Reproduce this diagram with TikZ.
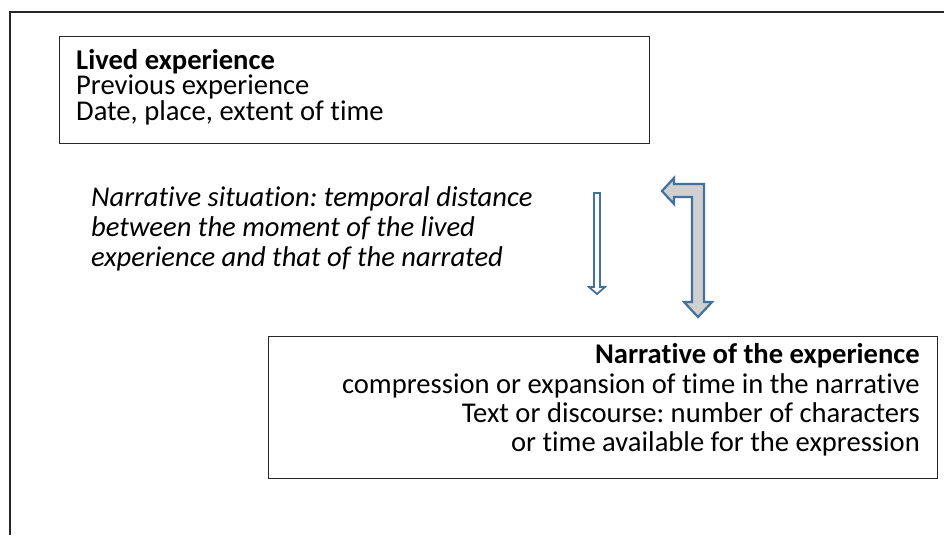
\documentclass[tikz,border=0pt]{standalone}
\usepackage{fontspec}
\setmainfont{Carlito}[Ligatures=NoCommon]
\frenchspacing
\newcommand\tightlines{\lineskiplimit -30pt\relax}
\begin{document}
\begin{tikzpicture}[x=1pt,y=-1pt,
  frameline/.style={line width=1.6pt,draw=black!85},
  boxstyle/.style={draw=black!85,line width=1.2pt,inner sep=0pt,anchor=north west},
  blockarrow/.style={draw=arrowblue,line width=2.2pt,line join=miter},
  txt/.style={inner sep=0pt}
]
\definecolor{arrowblue}{HTML}{41719C}
\definecolor{arrowfill}{HTML}{D0D0D0}
\useasboundingbox (0,0) rectangle (944,535);
% outer frame (open at right and bottom)
\draw[frameline] (10,535) -- (10,12) -- (944,12);
% box 1
\node[boxstyle,minimum width=590pt,minimum height=107pt] (lived) at (59,36) {};
\node[txt,anchor=north west,align=left,font=\fontsize{28.6}{25.5}\selectfont\tightlines] (livedtxt) at (76,49)
 {\textbf{Lived experience}\\Previous experience\\Date, place, extent of time};
% italic text
\node[txt,anchor=north west,align=left,font=\itshape\fontsize{28.6}{29.8}\selectfont\tightlines] (situation) at (91,186.5)
 {Narrative situation: temporal distance\\between the moment of the lived\\experience and that of the narrated};
% box 2
\node[boxstyle,minimum width=669pt,minimum height=142pt] (narr) at (268,336) {};
\node[txt,anchor=north east,align=right,font=\fontsize{28.6}{29.3}\selectfont\tightlines] (narrtxt) at (920,343.5)
 {\textbf{Narrative of the experience}\\compression or expansion of time in the narrative\\Text or discourse: number of characters\\or time available for the expression};
% thin down arrow
\draw[blockarrow,fill=white,line width=1.8pt] (594,193) -- (600,193) -- (600,287) -- (605,287) -- (597,294) -- (589,287) -- (594,287) -- cycle;
% bent arrow
\draw[blockarrow,fill=arrowfill] (704,184) -- (704,302) -- (712,302) -- (698,317) -- (684,302) -- (692,302) -- (692,197) -- (674,197) -- (674,204) -- (662,191) -- (674,178) -- (674,184) -- cycle;
\end{tikzpicture}
\end{document}
